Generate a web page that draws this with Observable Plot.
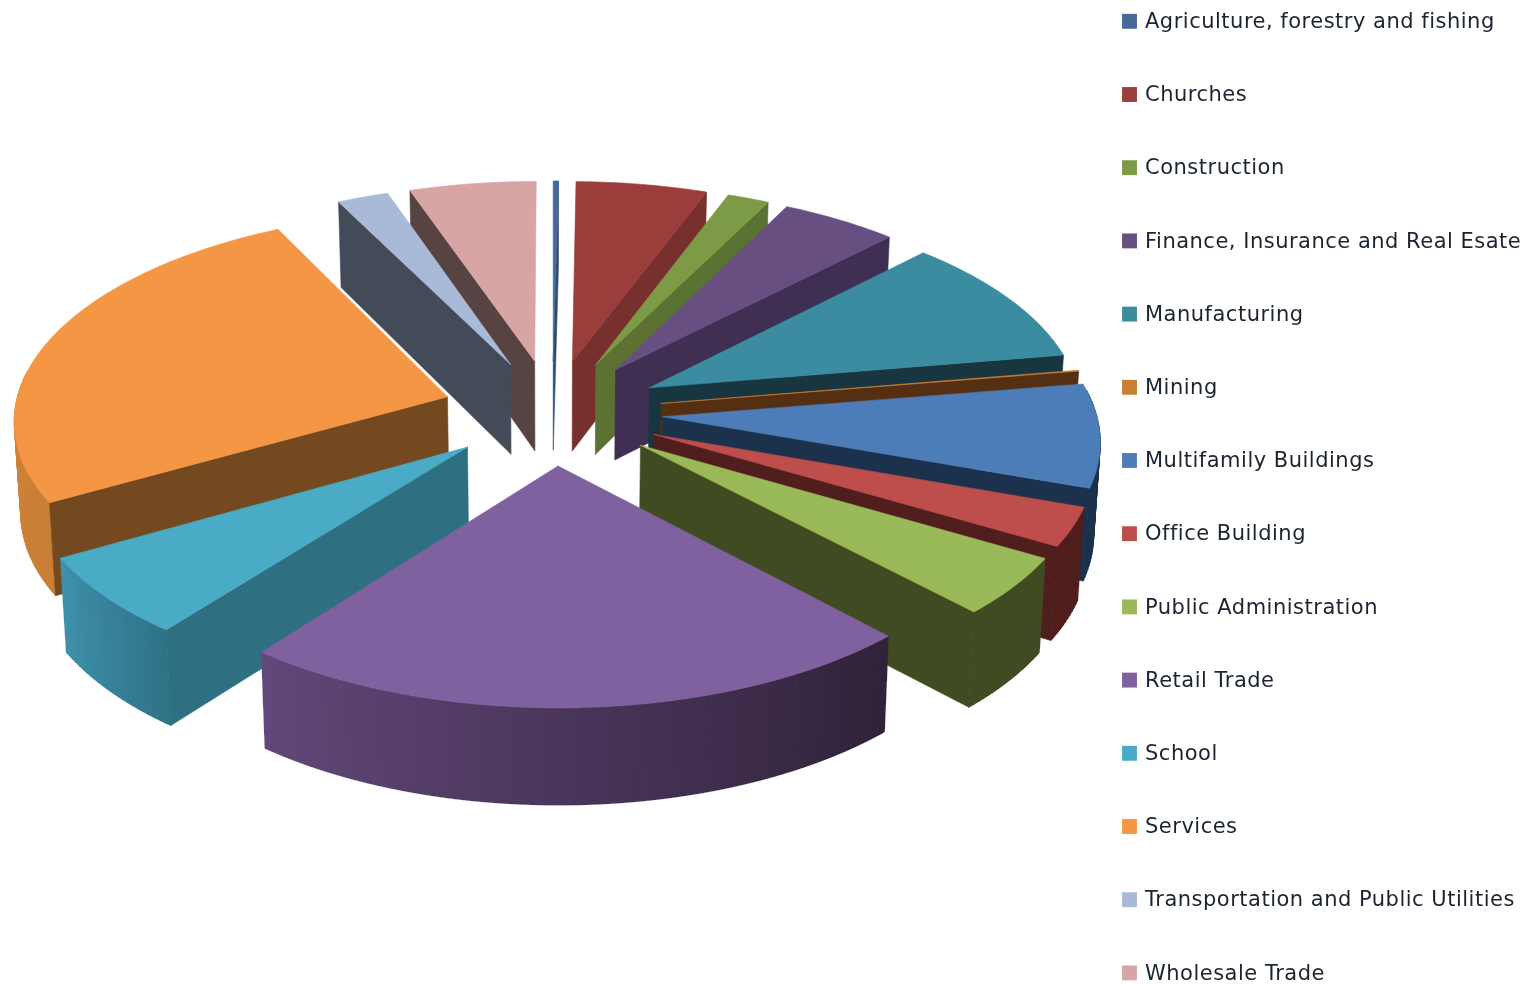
<!DOCTYPE html>
<html>
<head>
<meta charset="utf-8">
<script src="https://cdn.jsdelivr.net/npm/d3@7"></script>
<script src="https://cdn.jsdelivr.net/npm/@observablehq/plot@0.6"></script>
<style>html,body{margin:0;background:#fff;overflow:hidden}svg{display:block;filter:blur(.45px)}svg text{letter-spacing:.5px}</style>
</head>
<body>
<div id="chart"></div>
<script>
const categories = ["Agriculture, forestry and fishing","Churches","Construction","Finance, Insurance and Real Esate","Manufacturing","Mining","Multifamily Buildings","Office Building","Public Administration","Retail Trade","School","Services","Transportation and Public Utilities","Wholesale Trade"];
const shares = [0.22,5.47,1.75,4.89,10.03,0.08,7.97,3.0,4.5,22.64,6.22,25.81,2.14,5.28];
const topColors = ["#44699a","#9a3d3b","#7d9a46","#674f82","#3b8ba1","#c77f36","#4d7db8","#bd4e4b","#9aba59","#7f61a0","#4aabc6","#f59644","#a9b9d8","#d8a5a5"];
const wallColors = ["#2c4a70","#77302e","#5c7233","#3f2f52","#17363f","#552f12","#1c324c","#4f1e1d","#414b22","#2f2239","#2f6f82","#75491f","#444b58","#574341"];
const rimStartColors = ["#2c4a70","#77302e","#5c7233","#3f2f52","#17363f","#552f12","#1c324c","#4f1e1d","#414b22","#2f2239","#2f7288","#c87f36","#444b58","#574341"];
const rimEndColors = ["#2c4a70","#77302e","#5c7233","#3f2f52","#17363f","#552f12","#1c324c","#4f1e1d","#414b22","#62487a","#3f92ab","#d98a3d","#444b58","#574341"];

// View of the tilted, exploded pie
const view = {cx:552, cy:411.5, sx:442, sy:211, persp:0.1, radius:0.98, explode:0.25, turn:0};
const total = d3.sum(shares);
const rad = d => d * Math.PI / 180;
function project(u, v, low) {
  const s = 1 / (1 - view.persp * v);
  const x = view.cx + view.sx * u * s;
  const y = view.cy + view.sy * v * s;
  return low ? [x - (x - view.cx) * 0.012, y + 91 + 5 * v] : [x, y];
}

let acc = 0;
const slices = shares.map((share, i) => {
  const a0 = acc / total * 360 + view.turn; acc += share; const a1 = acc / total * 360 + view.turn;
  return {i, a0, a1, mid: (a0 + a1) / 2};
});
function poly(rows, id, pts, c) {
  [...pts, pts[0]].forEach(p => rows.push({id, x:p[0], y:p[1], c}));
}
const pieMarks = [];
const face = rows => Plot.line(rows, {x: "x", y: "y", z: "id", fill: "c", stroke: "c", strokeWidth: 0.6, curve: "linear"});
const strips = rows => Plot.line(rows, {x: "x", y: "y", z: "id", fill: "c", stroke: "c", strokeWidth: 0.8, curve: "linear", shapeRendering: "crispEdges"});
// back to front
[...slices].sort((p, q) => -Math.cos(rad(p.mid)) + Math.cos(rad(q.mid))).forEach(sl => {
  const {i, a0, a1, mid} = sl;
  const ou = view.explode * Math.sin(rad(mid)), ov = -view.explode * Math.cos(rad(mid));
  const rim = a => [ou + view.radius * Math.sin(rad(a)), ov - view.radius * Math.cos(rad(a))];
  const n = Math.max(2, Math.ceil(a1 - a0));
  const as = d3.range(n + 1).map(k => a0 + (a1 - a0) * k / n);
  const P = (uv, low) => project(uv[0], uv[1], low);
  const apex = [ou, ov];
  const walls = [], rimRows = [], top = [];
  // inner walls facing the viewer
  if (Math.sin(rad(a0)) < 0) poly(walls, `s${i}w0`, [P(apex), P(rim(a0)), P(rim(a0), true), P(apex, true)], wallColors[i]);
  if (Math.sin(rad(a1)) > 0.001) poly(walls, `s${i}w1`, [P(apex), P(rim(a1)), P(rim(a1), true), P(apex, true)], wallColors[i]);
  // outer rim, in narrow strips so its shade can follow the angle
  const mix = d3.interpolateRgb(rimStartColors[i], rimEndColors[i]);
  for (let k = 0; k < n; k++) {
    if (Math.cos(rad((as[k] + as[k + 1]) / 2)) < 0.12) {
      poly(rimRows, `s${i}r${k}`, [P(rim(as[k])), P(rim(as[k + 1])), P(rim(as[k + 1]), true), P(rim(as[k]), true)], mix((k + .5) / n));
    }
  }
  // top face
  poly(top, `s${i}t`, [P(apex), ...as.map(a => P(rim(a)))], topColors[i]);
  if (rimRows.length) pieMarks.push(strips(rimRows));
  if (walls.length) pieMarks.push(face(walls));
  pieMarks.push(face(top));
});

const legend = categories.map((name, i) => ({name, color: topColors[i], row: 20.8 + i * 73.2}));

const chart = Plot.plot({
  width: 1531, height: 984, margin: 0,
  x: {domain: [0, 1531], range: [0, 1531], axis: null},
  y: {domain: [0, 984], range: [0, 984], axis: null},
  color: {type: "identity"},
  marks: [
    ...pieMarks,
    Plot.dot(legend, {x: () => 1129, y: "row", symbol: "square", r: 8.4, fill: "color", stroke: "none"}),
    Plot.text(legend, {x: () => 1144.5, y: "row", text: "name", textAnchor: "start", fontSize: 21, fill: "#1c2430", fontFamily: "'DejaVu Sans'"})
  ]
});
document.getElementById("chart").append(chart);
</script>
</body>
</html>
